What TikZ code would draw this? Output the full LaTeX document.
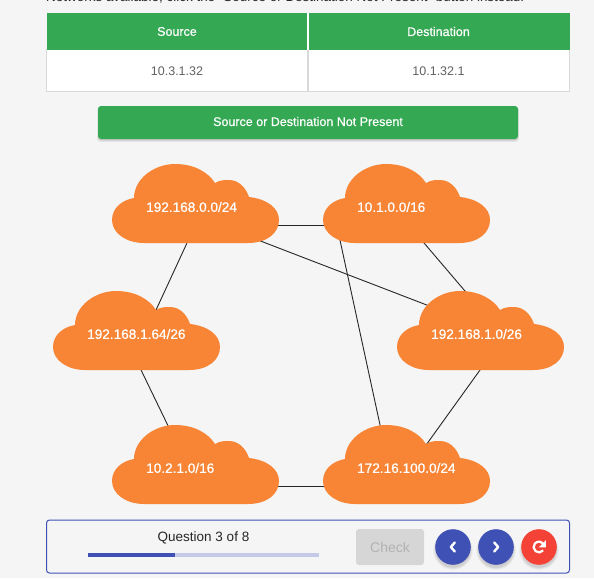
\documentclass[tikz,border=0pt]{standalone}
\usepackage{fontspec}
\setmainfont{Liberation Sans}
\newfontfamily\medfont[FakeBold=0.7]{Liberation Sans}
\usetikzlibrary{calc}
\definecolor{pagebg}{HTML}{F5F5F5}
\definecolor{tgreen}{HTML}{34A853}
\definecolor{cloudor}{HTML}{F88535}
\definecolor{indigo}{HTML}{3F51B5}
\definecolor{indigolt}{HTML}{C5CAE9}
\definecolor{redbtn}{HTML}{F44336}
\definecolor{rulegrey}{HTML}{D9D9D9}
\pgfdeclarelayer{back}
\pgfdeclarelayer{links}
\pgfsetlayers{back,links,main}
\tikzset{
  x=1pt,y=-1pt,
  cloudbox/.style={minimum width=167pt,minimum height=79pt,inner sep=0pt,outer sep=0pt},
  cloudtext/.style={anchor=west,text=white,font=\medfont\fontsize{13.6}{15}\selectfont,inner sep=0pt},
  link/.style={draw=black!85,line width=0.9pt},
  headtext/.style={text=white,font=\medfont\fontsize{12.5}{15}\selectfont,inner sep=0pt},
  celltext/.style={text=black!62,font=\fontsize{12.5}{15}\selectfont,inner sep=0pt},
  roundbtn/.style={circle,minimum size=35.6pt,inner sep=0pt},
  glyph/.style={draw=white,line width=2.4pt,line cap=round,line join=round},
}
\newcommand{\netcloud}[4]{%
  \begin{scope}[shift={(#2,#3)}]
    \fill[cloudor] (32,79) .. controls (14,79) and (0,69) .. (0,56)
      .. controls (0,44) and (10,36) .. (22,34)
      .. controls (22,15) and (42,0) .. (63,0)
      .. controls (82,0) and (96,8) .. (103,19)
      .. controls (108,16) and (112,16) .. (117,16)
      .. controls (127,16) and (134,24) .. (137,33)
      .. controls (155,35) and (167,44) .. (167,56)
      .. controls (167,69) and (155,79) .. (136,79) -- cycle;
    \node[cloudbox] (#1) at (83.5,39.5) {};
    \node[cloudtext] (#1-text) at (34,43) {#4};
  \end{scope}}
\newcommand{\softshadow}[3]{%
  \foreach \r/\o in {2/0.04,1/0.05,0/0.07}{
    \fill[black,opacity=\o] (#1,#2+3) circle[radius=#3+\r];}}
\begin{document}
\begin{tikzpicture}
\begin{pgfonlayer}{back}
  \fill[pagebg] (0,0) rectangle (594,578);
\end{pgfonlayer}
\useasboundingbox (0,0) rectangle (594,578);
\begin{scope}
\clip (0,0) rectangle (594,578);
\node[anchor=base west,inner sep=0pt,font=\fontsize{12.5}{15}\selectfont,text=black!85] (intro) at (46,1.5)
  {\resizebox{478pt}{!}{Networks available, click the ``Source or Destination Not Present'' button instead.}};
\end{scope}
% table
\fill[white,draw=rulegrey,line width=1pt] (46.5,50) rectangle (569.5,91);
\fill[tgreen] (47,13) rectangle (569.5,50);
\draw[white,line width=1.6pt] (308,13) -- (308,50);
\draw[rulegrey,line width=1.6pt] (308,50) -- (308,91);
\node[headtext] (hsrc) at (177,31.5) {Source};
\node[headtext] (hdst) at (438.5,31.5) {Destination};
\node[celltext] (vsrc) at (177,71) {10.3.1.32};
\node[celltext] (vdst) at (438.5,71) {10.1.32.1};
% button
\fill[black,opacity=0.06,rounded corners=3pt] (97,107) rectangle (519,142);
\fill[black,opacity=0.12,rounded corners=3pt] (98,107) rectangle (518,140.5);
\fill[tgreen,rounded corners=3pt] (98,106) rectangle (518,139);
\node[headtext] (notpresent) at (308,121.5) {Source or Destination Not Present};
% clouds
\netcloud{A}{112}{164}{192.168.0.0/24}
\netcloud{B}{323}{164}{10.1.0.0/16}
\netcloud{C}{53}{291}{192.168.1.64/26}
\netcloud{D}{397}{291}{192.168.1.0/26}
\netcloud{E}{112}{425}{10.2.1.0/16}
\netcloud{F}{323}{425}{172.16.100.0/24}
\begin{pgfonlayer}{links}
  \draw[link] ($(A.center)+(60,21.5)$) -- ($(B.center)+(-60,21.5)$);
  \draw[link] ($(A.center)+(-3.9,29.5)$) -- ($(C.center)+(14.9,-10.5)$);
  \draw[link] ($(A.center)+(52.5,32.7)$) -- ($(D.center)+(-46.5,-22.7)$);
  \draw[link] ($(B.center)+(9,29.5)$) -- ($(D.center)+(-7,-29.5)$);
  \draw[link] ($(B.center)+(-68.7,26.5)$) -- ($(F.center)+(-24.3,-29.5)$);
  \draw[link] ($(D.center)+(6.7,29.5)$) -- ($(F.center)+(13.6,-11.2)$);
  \draw[link] ($(C.center)+(-0.3,29.5)$) -- ($(E.center)+(-23,-29.5)$);
  \draw[link] ($(E.center)+(60,21.5)$) -- ($(F.center)+(-60,21.5)$);
\end{pgfonlayer}
% footer
\draw[indigo,line width=1pt,rounded corners=3pt] (46.5,520) rectangle (569.5,573);
\node[inner sep=0pt,font=\fontsize{13.5}{15}\selectfont,text=black!85] (qnum) at (203.5,537.5) {Question 3 of 8};
\fill[indigolt] (88,553) rectangle (319,557);
\fill[indigo] (88,553) rectangle (175,557);
\fill[black!16,rounded corners=3pt] (356,529) rectangle (424,565);
\node[inner sep=0pt,font=\fontsize{14}{15}\selectfont,text=black!30] (check) at (390,547) {Check};
\softshadow{453}{547}{17.8}
\softshadow{496}{547}{17.8}
\softshadow{539}{547}{17.8}
\node[roundbtn,fill=indigo] (prev) at (453,547) {};
\node[roundbtn,fill=indigo] (next) at (496,547) {};
\node[roundbtn,fill=redbtn] (reload) at (539,547) {};
\draw[glyph] ($(prev.center)+(1.8,-4.5)$) -- ($(prev.center)+(-2.2,0)$) -- ($(prev.center)+(1.8,4.5)$);
\draw[glyph] ($(next.center)+(-1.8,-4.5)$) -- ($(next.center)+(2.2,0)$) -- ($(next.center)+(-1.8,4.5)$);
\draw[white,line width=2.2pt] ($(reload.center)+(4.2,3.4)$) arc[start angle=-39,end angle=-318,radius=5.4pt];
\fill[white] ($(reload.center)+(6.8,-6.8)$) -- ($(reload.center)+(6.8,0.3)$) -- ($(reload.center)+(-0.3,0.3)$) -- cycle;
\end{tikzpicture}
\end{document}
